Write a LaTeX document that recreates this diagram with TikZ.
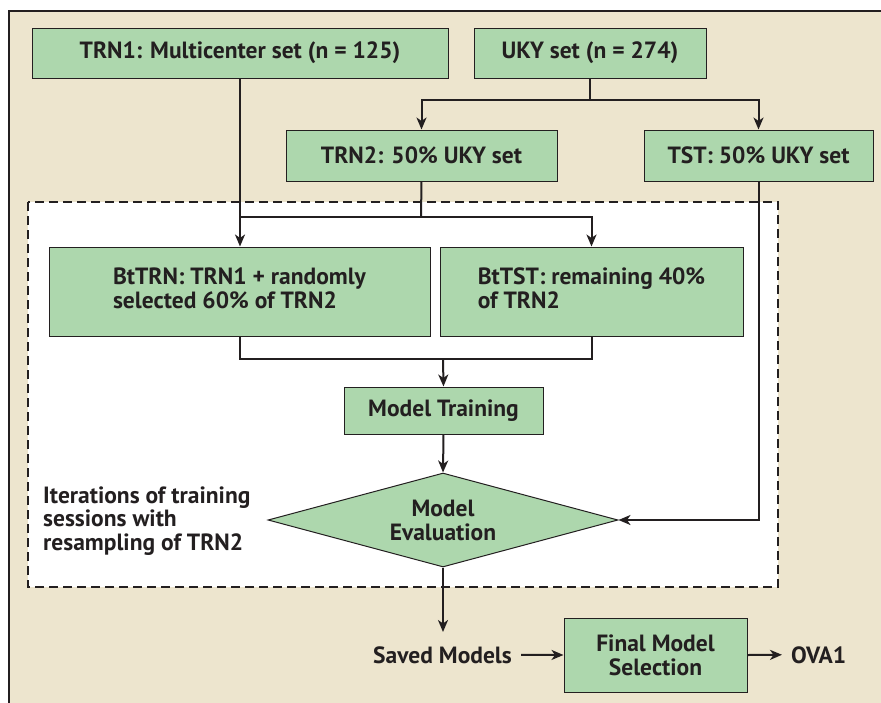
\documentclass[tikz,border=0pt]{standalone}
\usepackage{fontspec}
\setmainfont{PT Sans}
\usetikzlibrary{arrows.meta,shapes.geometric}
\definecolor{bgbeige}{RGB}{237,229,206}
\definecolor{boxgreen}{RGB}{173,215,173}
\definecolor{inkdark}{RGB}{35,31,32}
\tikzset{
  stepbox/.style={draw=inkdark, line width=1pt, fill=boxgreen, text=inkdark,
    font=\bfseries\fontsize{23.5}{24}\selectfont, inner sep=0pt, align=center},
  lbl/.style={text=inkdark, font=\bfseries\fontsize{23.5}{23.5}\selectfont, inner sep=0pt},
  conn/.style={draw=inkdark, line width=2pt},
  arr/.style={conn, -{Stealth[length=12pt,width=10pt,inset=3.5pt]}},
}
\begin{document}
\begin{tikzpicture}[x=1pt,y=-1pt]
\useasboundingbox (0,0) rectangle (881,702);
\clip (0,0) rectangle (881,702);
% outer frame
\draw[draw=inkdark, line width=2.5pt, fill=bgbeige] (9,11) rectangle (900,720);
% dashed iteration region
\draw[draw=inkdark, line width=2.2pt, fill=white, dash pattern=on 9pt off 5pt] (28,202) rectangle (778,587);

% nodes
\node[stepbox, minimum width=416, minimum height=50] (trn1) at (240,53) {TRN1: Multicenter set (n = 125)};
\node[stepbox, minimum width=232, minimum height=50] (uky) at (590,53) {UKY set (n = 274)};
\node[stepbox, minimum width=271, minimum height=51] (trn2) at (421.5,155.5) {TRN2: 50\% UKY set};
\node[stepbox, minimum width=229, minimum height=51] (tst) at (758.5,155.5) {TST: 50\% UKY set};
\node[stepbox, minimum width=381, minimum height=89] (bttrn) at (239.5,291.5) {\begin{tabular}{@{}l@{}}BtTRN: TRN1 + randomly\\selected 60\% of TRN2\end{tabular}};
\node[stepbox, minimum width=303, minimum height=89] (bttst) at (591.5,291.5) {\begin{tabular}{@{}l@{}}BtTST: remaining 40\%\\of TRN2\end{tabular}};
\node[stepbox, minimum width=199, minimum height=47] (mt) at (443.5,410.5) {Model Training};
\node[stepbox, shape=diamond, aspect=3.72, minimum width=350, minimum height=94] (ev) at (443,520) {Model\\Evaluation};
\node[stepbox, minimum width=183, minimum height=74] (fin) at (655.5,655) {Final Model\\Selection};
\node[lbl, anchor=base east] (saved) at (512,663) {Saved Models};
\node[lbl, anchor=base west] (ova) at (791,663) {OVA1};
\node[lbl, anchor=west, align=left] (iter) at (43,521) {Iterations of training\\sessions with\\resampling of TRN2};

% junction coordinates
\coordinate (jB) at (590,100);
\coordinate (jA) at (421,217);
\coordinate (jC) at (443,359);
\coordinate (evout) at (443,632);

% connectors
\draw[conn] (uky.south) -- (jB);
\draw[arr] (jB) -| (trn2.north);
\draw[arr] (jB) -| (tst.north);
\draw[arr] (trn1.south) -- (trn1.south |- bttrn.north);
\draw[conn] (trn2.south) -- (jA);
\draw[conn] (trn1.south |- jA) -- (jA);
\draw[arr] (jA) -| (bttst.north);
\draw[conn] (bttrn.south) |- (jC);
\draw[conn] (bttst.south) |- (jC);
\draw[arr] (jC) -- (mt.north);
\draw[arr] (mt.south) -- (ev.north);
\draw[arr] (tst.south) |- (ev.east);
\draw[arr] (ev.south) -- (evout);
\draw[arr] ([xshift=9pt]saved.east) -- (fin.west);
\draw[arr] (fin.east) -- ([xshift=-9pt]ova.west);
\end{tikzpicture}
\end{document}
